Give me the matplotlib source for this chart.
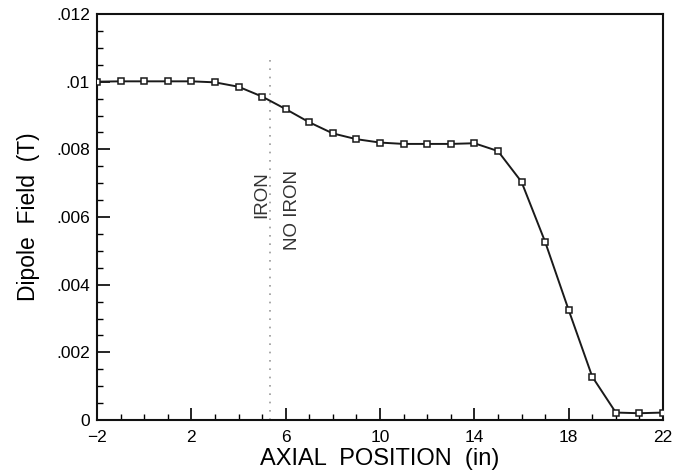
import matplotlib
matplotlib.use("Agg")
import matplotlib.pyplot as plt
from matplotlib.ticker import MultipleLocator

plt.rcParams['font.family'] = ['Liberation Sans', 'DejaVu Sans']

# Data
positions = [-2, -1, 0, 1, 2, 3, 4, 5, 6, 7, 8, 9, 10, 11, 12, 13, 14, 15, 16, 17, 18, 19, 20, 21, 22]
field = [0.01000, 0.01001, 0.01001, 0.01001, 0.01001, 0.00998, 0.00985, 0.00956, 0.00919,
         0.00880, 0.00847, 0.00830, 0.00820, 0.00816, 0.00816, 0.00816, 0.00818, 0.00795,
         0.00704, 0.00527, 0.00325, 0.00128, 0.00022, 0.00020, 0.00022]
x_ticks = [-2, 2, 6, 10, 14, 18, 22]
x_tick_labels = ['\u22122', '2', '6', '10', '14', '18', '22']
y_ticks = [0, 0.002, 0.004, 0.006, 0.008, 0.010, 0.012]
y_tick_labels = ['0', '.002', '.004', '.006', '.008', '.01', '.012']
boundary_x = 5.33

fig = plt.figure(figsize=(6.91, 4.73), dpi=100)
ax = fig.add_axes([97/691, 53/473, 566/691, 406/473])

ax.plot(positions, field, color='#1a1a1a', lw=1.4, marker='s', markersize=5,
        markerfacecolor='white', markeredgecolor='#1a1a1a', markeredgewidth=1.1, zorder=3)

ax.axvline(boundary_x, ymin=0.0, ymax=0.9, color='#9a9a9a', lw=1.2, ls=(0, (1, 4)), zorder=1)

ax.text(5.0, 0.00735, 'IRON', rotation=90, ha='center', va='top',
        fontsize=13.5, color='#333333')
ax.text(6.31, 0.0074, 'NO IRON', rotation=90, ha='center', va='top',
        fontsize=13.5, color='#333333')

ax.set_xlim(-2, 22)
ax.set_ylim(0, 0.012)
ax.set_xticks(x_ticks)
ax.set_xticklabels(x_tick_labels)
ax.set_yticks(y_ticks)
ax.set_yticklabels(y_tick_labels)
ax.xaxis.set_minor_locator(MultipleLocator(1))
ax.yaxis.set_minor_locator(MultipleLocator(0.0005))
ax.tick_params(which='major', direction='in', length=9, width=1.2, labelsize=12.5,
               top=False, right=False)
ax.tick_params(axis='x', which='major', pad=7)
ax.tick_params(axis='y', which='major', pad=5)
ax.tick_params(which='minor', direction='in', length=4.5, width=1.0, top=False, right=False)

for s in ax.spines.values():
    s.set_linewidth(1.5)
    s.set_color('#111111')

ax.set_xlabel('AXIAL  POSITION  (in)', fontsize=17, labelpad=2)
ax.set_ylabel('Dipole  Field  (T)', fontsize=16.5, labelpad=12)

fig.savefig('out.png', dpi=100)
